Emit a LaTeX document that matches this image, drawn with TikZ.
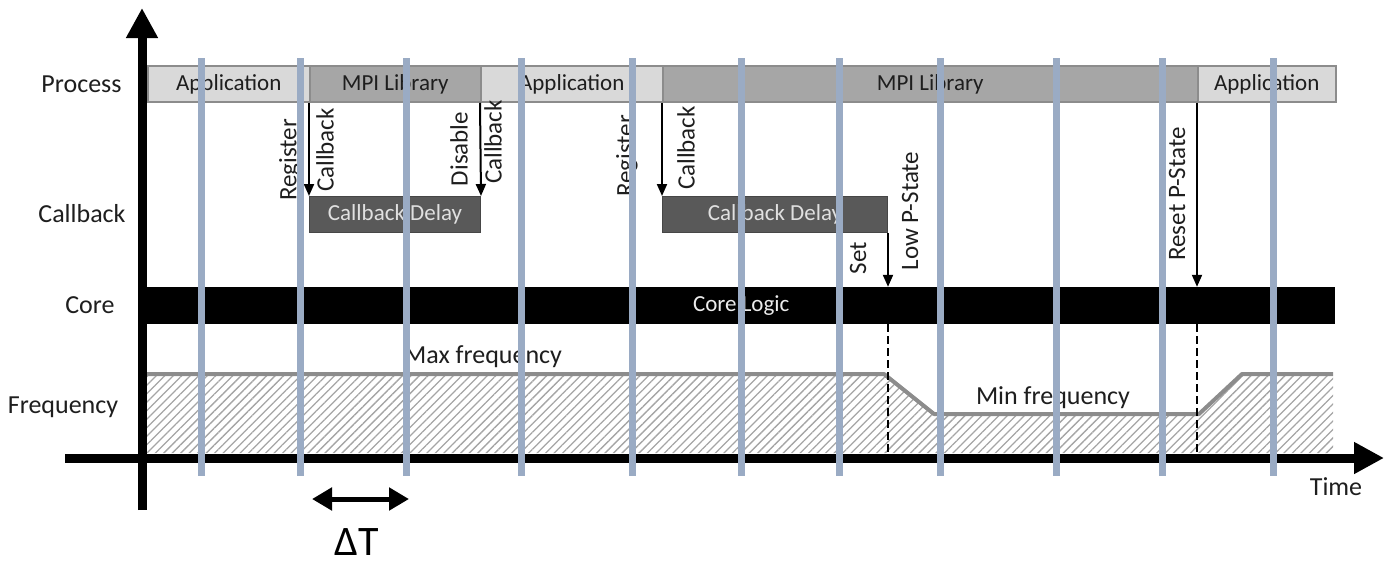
\documentclass[tikz,border=0pt]{standalone}
\usepackage{fontspec}
\setmainfont{Carlito}
\usetikzlibrary{arrows.meta,patterns.meta}

\definecolor{gridblue}{RGB}{154,171,196}
\definecolor{appfill}{RGB}{217,217,217}
\definecolor{mpifill}{RGB}{166,166,166}
\definecolor{barline}{RGB}{140,140,140}
\definecolor{delayfill}{RGB}{89,89,89}
\definecolor{delayline}{RGB}{70,70,70}
\definecolor{freqline}{RGB}{140,140,140}
\definecolor{hatchgray}{RGB}{165,165,165}
\definecolor{labeltext}{RGB}{30,30,30}

\newcommand{\fsz}[1]{\fontsize{#1}{#1}\selectfont}

\begin{document}
\begin{tikzpicture}[x=1pt,y=-1pt,
  seg/.style={draw=barline, line width=1.5pt, minimum height=36pt, inner sep=0pt,
              anchor=west, font=\fsz{23}, text=labeltext},
  appseg/.style={seg, fill=appfill},
  mpiseg/.style={seg, fill=mpifill},
  delaybox/.style={draw=delayline, fill=delayfill, text=white!88!black, line width=1pt,
              minimum height=36pt, inner sep=0pt, anchor=north west, font=\fsz{23}},
  corebar/.style={fill=black, text=white!92!black, minimum height=37pt, inner sep=0pt,
              anchor=west, font=\fsz{23}},
  rowlabel/.style={font=\fsz{26}, inner sep=0pt, text=labeltext},
  vlabel/.style={rotate=90, font=\fsz{25}, inner sep=0pt, text=labeltext},
  sig/.style={line width=2pt, -{Triangle[length=12pt,width=10pt]}},
  axis/.style={line width=9pt, -{Triangle[length=30pt,width=30pt]}},
  drop/.style={line width=2.5pt, dash pattern=on 8pt off 4pt},
  grid/.style={gridblue, line width=7pt},
]
\useasboundingbox (0,0) rectangle (1392,566);

% frequency profile: hatched area under the curve
\coordinate (f0) at (147,374);
\coordinate (f1) at (884,374);
\coordinate (f2) at (934,414);
\coordinate (f3) at (1199,414);
\coordinate (f4) at (1242,374);
\coordinate (f5) at (1333,374);
\coordinate (floor) at (0,453);
\fill[pattern={Lines[angle=45,distance=6pt,line width=1.3pt]}, pattern color=hatchgray]
  (f0) -- (f1) -- (f2) -- (f3) -- (f4) -- (f5) -- (f5 |- floor) -- (f0 |- floor) -- cycle;
\draw[freqline, line width=4pt, line join=round] (f0) -- (f1) -- (f2) -- (f3) -- (f4) -- (f5);

% axes
\coordinate (yfoot) at (142,510);
\coordinate (ytip) at (142,8);
\coordinate (xfoot) at (65,458);
\coordinate (xtip) at (1384,458);
\draw[axis] (yfoot) -- (ytip);
\draw[axis] (xfoot) -- (xtip);

% row labels
\node[rowlabel] (lproc) at (81.5,84.5) {Process};
\node[rowlabel] (lcb) at (82,214) {Callback};
\node[rowlabel] (lcore) at (90,305) {Core};
\node[rowlabel] (lfreq) at (63,407) {Frequency};
\node[rowlabel] (ltime) at (1336,487) {Time};

% process timeline
\node[appseg, minimum width=162pt] (app1) at (147,84) {Application};
\node[mpiseg, minimum width=171pt] (mpi1) at (309,84) {MPI Library};
\node[appseg, minimum width=182pt] (app2) at (480,84) {Application};
\node[mpiseg, minimum width=535pt] (mpi2) at (662,84) {MPI Library};
\node[appseg, minimum width=138pt] (app3) at (1197,84) {Application};

% callback delays
\node[delaybox, minimum width=171pt] (delay1) at (309,196) {Callback Delay};
\node[delaybox, minimum width=225pt] (delay2) at (662,196) {Callback Delay};

% core logic
\node[corebar, minimum width=1188pt] (core) at (147,305.5) {Core Logic};

% signals
\draw[sig] (mpi1.south west) -- (delay1.north west);
\draw[sig] (app2.south west) -- (delay1.north east);
\draw[sig] (mpi2.south west) -- (delay2.north west);
\draw[sig] (delay2.south east) -- (delay2.south east |- core.north);
\draw[sig] (app3.south west) -- (app3.south west |- core.north);

% frequency change markers
\draw[drop] (core.south -| delay2.south east) -- (delay2.south east |- floor);
\draw[drop] (core.south -| app3.south west) -- (app3.south west |- floor);

% signal labels
\node[vlabel] (tReg1) at (290,160) {Register};
\node[vlabel] (tCb1) at (325,150) {Callback};
\node[vlabel] (tDis) at (459,149) {Disable};
\node[vlabel] (tCb2) at (493,142) {Callback};
\node[vlabel] (tReg2) at (627,156) {Register};
\node[vlabel] (tCb3) at (686,148) {Callback};
\node[vlabel] (tSet) at (858,258) {Set};
\node[vlabel] (tLow) at (910,211) {Low P-State};
\node[vlabel] (tReset) at (1177,194) {Reset P-State};

% frequency labels
\node[rowlabel] (tMax) at (483,357) {Max frequency};
\node[rowlabel] (tMin) at (1053,398) {Min frequency};

% sampling grid
\foreach \gx in {201,300,406,521,632,741,839,940,1056,1162,1273}
  \draw[grid] (\gx,58) -- (\gx,476);

% sampling interval
\coordinate (dtl) at (312,499);
\coordinate (dtr) at (409,499);
\draw[line width=5pt, {Triangle[length=20pt,width=22pt]}-{Triangle[length=20pt,width=22pt]}] (dtl) -- (dtr);
\node[font=\fsz{42}, inner sep=0pt, anchor=base] (dt) at (357,555) {ΔT};
\end{tikzpicture}
\end{document}
